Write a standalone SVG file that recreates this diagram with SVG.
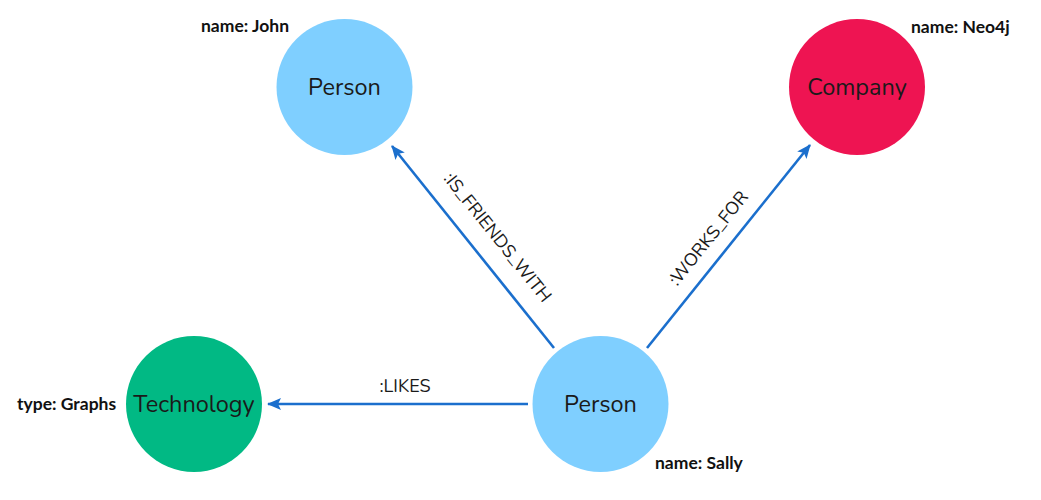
<svg xmlns="http://www.w3.org/2000/svg" width="1041" height="500" viewBox="0 0 1041 500">
<style>
.node-label{font-family:"Nunito","Open Sans","Noto Sans",sans-serif;font-size:23.5px;fill:#1a1a1a;text-anchor:middle;dominant-baseline:central}
.prop{font-family:"Lato","Open Sans",sans-serif;font-size:17.5px;font-weight:bold;fill:#111}
.edge{stroke:#1b6fcd;stroke-width:2.6;fill:none;marker-end:url(#arrow)}
.edge-label{font-family:"Nunito","Open Sans","Noto Sans",sans-serif;font-size:18px;fill:#1a1a1a;text-anchor:middle}
</style>
<defs>
<marker id="arrow" viewBox="0 0 14 12" refX="13" refY="6" markerWidth="14" markerHeight="12" markerUnits="userSpaceOnUse" orient="auto">
<path d="M0,0 L14,6 L0,12 L3,6 Z" fill="#1b6fcd"/>
</marker>
</defs>
<rect width="1041" height="500" fill="#ffffff"/>
<g id="connectors">
<line class="edge" x1="554" y1="348" x2="392" y2="146"/>
<line class="edge" x1="647" y1="348" x2="810" y2="145"/>
<line class="edge" x1="528" y1="404" x2="268" y2="404"/>
<text class="edge-label" transform="translate(493,241) rotate(51.3)">:IS_FRIENDS_WITH</text>
<text class="edge-label" transform="translate(713,242) rotate(-51.2)">:WORKS_FOR</text>
<text class="edge-label" x="405" y="392">:LIKES</text>
</g>
<g id="node-john">
<circle cx="344.5" cy="87" r="68" fill="#7fcfff"/>
<text class="node-label" x="344.5" y="87">Person</text>
<text class="prop" x="201" y="32">name: John</text>
</g>
<g id="node-neo4j">
<circle cx="857" cy="87" r="68" fill="#ee1452"/>
<text class="node-label" x="857" y="87">Company</text>
<text class="prop" x="911" y="33">name: Neo4j</text>
</g>
<g id="node-graphs">
<circle cx="194" cy="404" r="68" fill="#01b984"/>
<text class="node-label" x="194" y="404">Technology</text>
<text class="prop" x="17" y="410">type: Graphs</text>
</g>
<g id="node-sally">
<circle cx="600.5" cy="404" r="68" fill="#7fcfff"/>
<text class="node-label" x="600.5" y="404">Person</text>
<text class="prop" x="655" y="469">name: Sally</text>
</g>
</svg>
